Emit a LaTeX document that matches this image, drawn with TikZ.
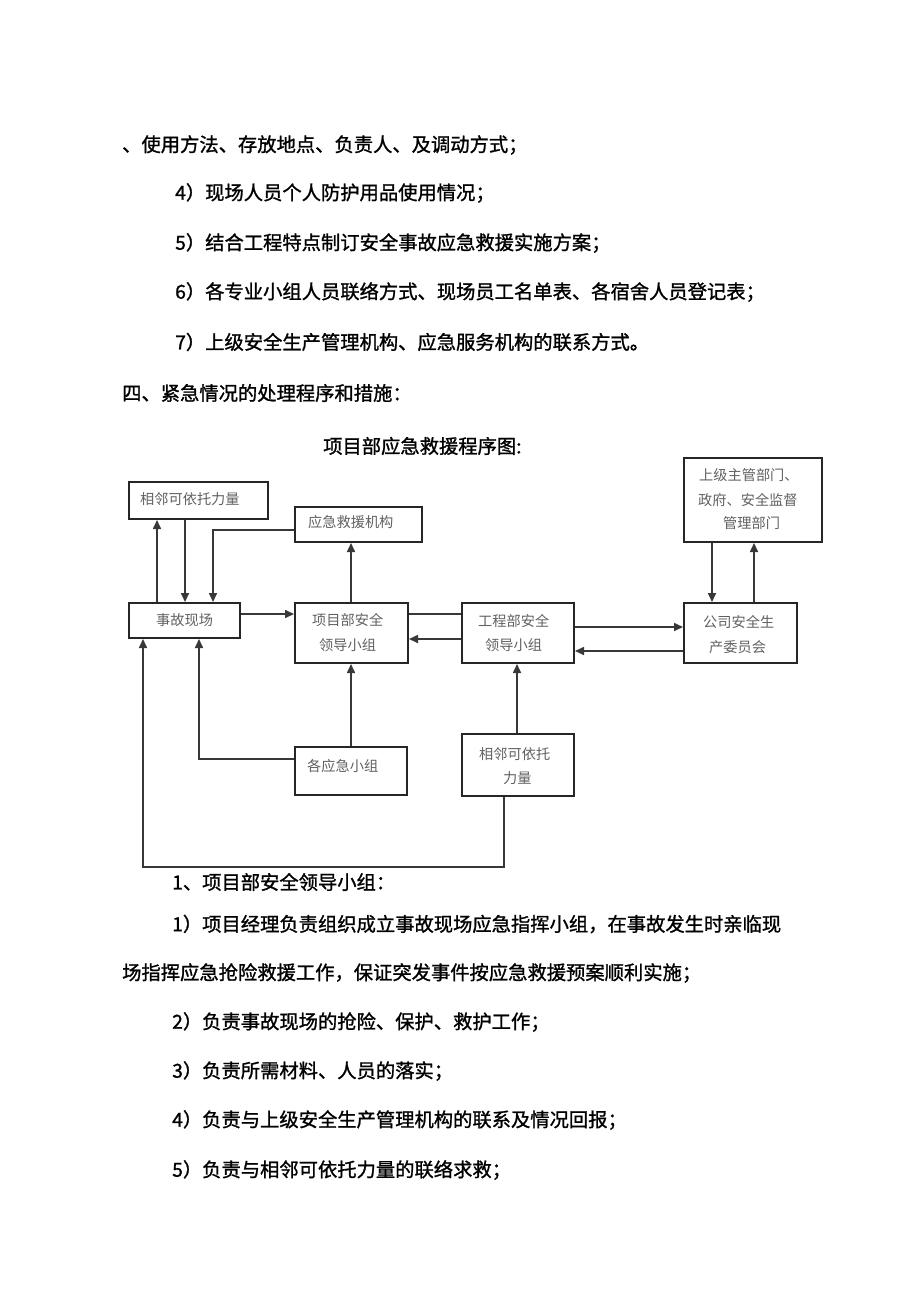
\documentclass[tikz,border=0pt]{standalone}
\usepackage{fontspec}
\newfontfamily\cjk{Noto Sans CJK SC}
\newfontfamily\cjkb[FakeBold=1.2]{Noto Sans CJK SC}
\usetikzlibrary{arrows.meta}
\begin{document}
\begin{tikzpicture}[x=1pt,y=-1pt,
  body/.style={anchor=west,inner sep=0pt,font=\cjkb\fontsize{19.3}{19.3}\selectfont,text=black},
  lbl/.style={anchor=west,inner sep=0pt,font=\cjk\fontsize{14.2}{14.2}\selectfont,text=black!62},
  box/.style={draw=black!85,line width=2pt,inner sep=0pt,fill=white},
  conn/.style={draw=black!78,line width=1.6pt},
  arr/.style={conn,-{Triangle[length=9pt,width=8pt]}}]
\useasboundingbox[fill=white] (0,0) rectangle (920,1303);

% body text
\node[body] (t1) at (122,145) {、使用方法、存放地点、负责人、及调动方式；};
\node[body] (t2) at (175,193) {4）现场人员个人防护用品使用情况；};
\node[body] (t3) at (175,243) {5）结合工程特点制订安全事故应急救援实施方案；};
\node[body] (t4) at (175,292) {6）各专业小组人员联络方式、现场员工名单表、各宿舍人员登记表；};
\node[body] (t5) at (175,342) {7）上级安全生产管理机构、应急服务机构的联系方式。};
\node[body] (t6) at (122,393) {四、紧急情况的处理程序和措施：};
\node[body] (title) at (323,446) {项目部应急救援程序图:};
\node[body] (t7) at (172,882) {1、项目部安全领导小组：};
\node[body] (t8) at (172,924) {1）项目经理负责组织成立事故现场应急指挥小组，在事故发生时亲临现};
\node[body] (t9) at (122,973) {场指挥应急抢险救援工作，保证突发事件按应急救援预案顺利实施；};
\node[body] (t10) at (172,1022) {2）负责事故现场的抢险、保护、救护工作；};
\node[body] (t11) at (172,1071) {3）负责所需材料、人员的落实；};
\node[body] (t12) at (172,1120) {4）负责与上级安全生产管理机构的联系及情况回报；};
\node[body] (t13) at (172,1170) {5）负责与相邻可依托力量的联络求救；};

% boxes
\node[box,minimum width=139pt,minimum height=37pt] (nb) at (198.5,500.5) {};
\node[box,minimum width=127pt,minimum height=35pt] (jy) at (358.5,524.5) {};
\node[box,minimum width=111pt,minimum height=35pt] (sg) at (184.5,620.5) {};
\node[box,minimum width=113pt,minimum height=60pt] (xm) at (351.5,633) {};
\node[box,minimum width=112pt,minimum height=60pt] (gc) at (518,633) {};
\node[box,minimum width=138pt,minimum height=84pt] (sj) at (753,500) {};
\node[box,minimum width=113pt,minimum height=60pt] (gs) at (740.5,633) {};
\node[box,minimum width=112pt,minimum height=48pt] (gy) at (351,771) {};
\node[box,minimum width=112pt,minimum height=62pt] (nb2) at (518,765) {};

% labels
\node[lbl] (l1) at (140,499) {相邻可依托力量};
\node[lbl] (l2) at (308,522) {应急救援机构};
\node[lbl] (l3) at (156,620) {事故现场};
\node[lbl] (l4a) at (312,620) {项目部安全};
\node[lbl] (l4b) at (319,645) {领导小组};
\node[lbl] (l5a) at (478,621) {工程部安全};
\node[lbl] (l5b) at (485,645) {领导小组};
\node[lbl] (l6a) at (699,475) {上级主管部门、};
\node[lbl] (l6b) at (698,500) {政府、安全监督};
\node[lbl] (l6c) at (723,523) {管理部门};
\node[lbl] (l7a) at (703,622) {公司安全生};
\node[lbl] (l7b) at (709,647) {产委员会};
\node[lbl] (l8) at (307,766) {各应急小组};
\node[lbl] (l9a) at (479,754) {相邻可依托};
\node[lbl] (l9b) at (503,778) {力量};

% connectors
\draw[arr] (sg.north -| 157,0) -- (nb.south -| 157,0);
\draw[arr] (nb.south -| 185,0) -- (sg.north -| 185,0);
\draw[arr] (jy.west |- 0,530) -| (sg.north -| 213,0);
\draw[arr] (sg.east |- 0,614) -- (xm.west |- 0,614);
\draw[arr] (xm.north -| 351,0) -- (jy.south -| 351,0);
\draw[conn] (xm.east |- 0,614) -- (gc.west |- 0,614);
\draw[arr] (gc.west |- 0,639) -- (xm.east |- 0,639);
\draw[arr] (gc.east |- 0,627) -- (gs.west |- 0,627);
\draw[arr] (gs.west |- 0,651) -- (gc.east |- 0,651);
\draw[arr] (sj.south -| 712,0) -- (gs.north -| 712,0);
\draw[arr] (gs.north -| 754,0) -- (sj.south -| 754,0);
\draw[arr] (gy.north -| 351,0) -- (xm.south -| 351,0);
\draw[arr] (gy.west |- 0,759) -| (sg.south -| 199,0);
\draw[arr] (nb2.north -| 517,0) -- (gc.south -| 517,0);
\draw[arr] (nb2.south -| 504,0) -- (504,867) -- (143,867) -- (sg.south -| 143,0);
\end{tikzpicture}
\end{document}
